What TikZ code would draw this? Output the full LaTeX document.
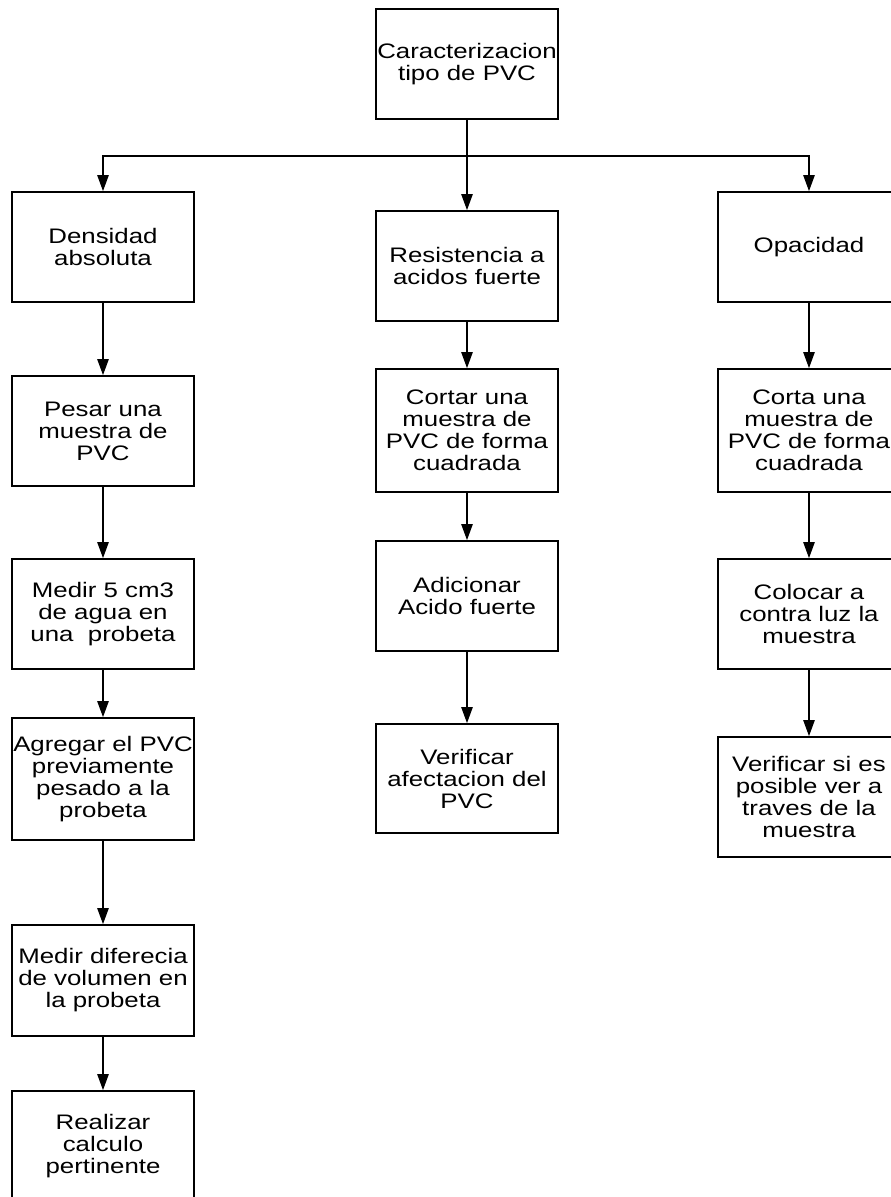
\documentclass[tikz,border=0pt]{standalone}
\usepackage{fontspec}
\setmainfont{Liberation Sans}[FakeStretch=1.23]
\usetikzlibrary{arrows.meta}

\begin{document}
\begin{tikzpicture}[x=0.75pt,y=0.75pt,yscale=-1,xscale=1,
  caja/.style={draw,line width=1.3pt,minimum width=137pt,minimum height=82.5pt,align=center,inner sep=0pt,font=\fontsize{15.75pt}{16.5pt}\selectfont},
  flecha/.style={line width=1.1pt,-{Triangle[length=12pt,width=8.5pt]}}]
\useasboundingbox (0,0) rectangle (890,1197);

%Shape: Rectangle [id:top]
\node[caja] (carac) at (467,64) {Caracterizacion\\tipo de PVC};
%Shape: Rectangle [id:left column]
\node[caja] (dens) at (103,247) {Densidad\\absoluta};
\node[caja] (pesar) at (103,431) {Pesar una\\muestra de\\PVC};
\node[caja] (medir) at (103,614) {Medir 5 cm3\\de agua en\\una\ \ probeta};
\node[caja,minimum height=91.5pt] (agregar) at (103,779) {Agregar el PVC\\previamente\\pesado a la\\probeta};
\node[caja,minimum height=83.25pt] (medirdif) at (103,980.5) {Medir diferecia\\de volumen en\\la probeta};
\node[caja] (realizar) at (103,1146) {Realizar\\calculo\\pertinente};
%Shape: Rectangle [id:middle column]
\node[caja] (resis) at (467,266) {Resistencia a\\acidos fuerte};
\node[caja,minimum height=92.25pt] (cortar) at (467,430.5) {Cortar una\\muestra de\\PVC de forma\\cuadrada};
\node[caja] (adicionar) at (467,596) {Adicionar\\Acido fuerte};
\node[caja,minimum height=81.75pt] (verafect) at (467,778.5) {Verificar\\afectacion del\\PVC};
%Shape: Rectangle [id:right column]
\node[caja] (opac) at (809,247) {Opacidad};
\node[caja,minimum height=92.25pt] (corta) at (809,430.5) {Corta una\\muestra de\\PVC de forma\\cuadrada};
\node[caja] (colocar) at (809,614) {Colocar a\\contra luz la\\muestra};
\node[caja,minimum height=90pt] (versi) at (809,797) {Verificar si es\\posible ver a\\traves de la\\muestra};

%Straight Lines [id:branch]
\coordinate (rama) at (467,156);
\draw[flecha] (carac.south) -- (resis.north);
\draw[flecha] (rama) -| (dens.north);
\draw[flecha] (rama) -| (opac.north);
%Straight Lines [id:left arrows]
\draw[flecha] (dens.south) -- (pesar.north);
\draw[flecha] (pesar.south) -- (medir.north);
\draw[flecha] (medir.south) -- (agregar.north);
\draw[flecha] (agregar.south) -- (medirdif.north);
\draw[flecha] (medirdif.south) -- (realizar.north);
%Straight Lines [id:middle arrows]
\draw[flecha] (resis.south) -- (cortar.north);
\draw[flecha] (cortar.south) -- (adicionar.north);
\draw[flecha] (adicionar.south) -- (verafect.north);
%Straight Lines [id:right arrows]
\draw[flecha] (opac.south) -- (corta.north);
\draw[flecha] (corta.south) -- (colocar.north);
\draw[flecha] (colocar.south) -- (versi.north);

\end{tikzpicture}
\end{document}
